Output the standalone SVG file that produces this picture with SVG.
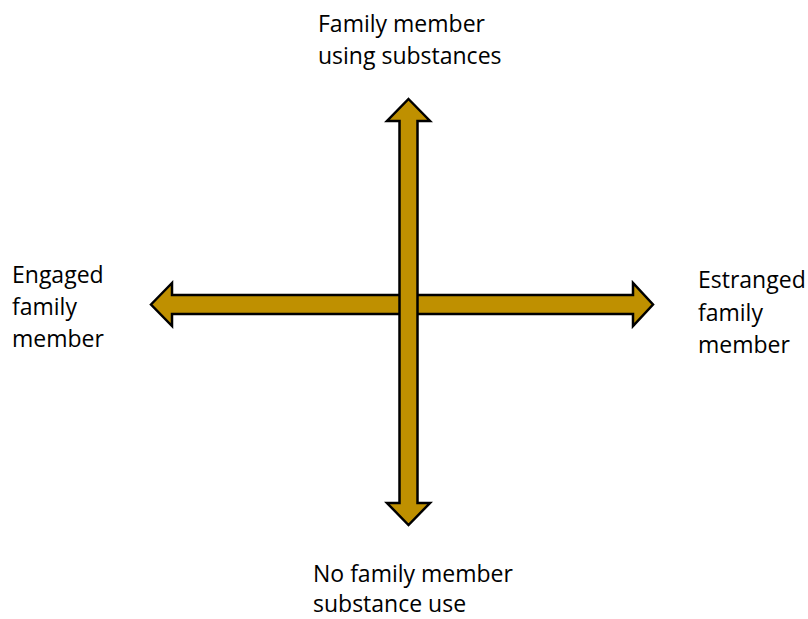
<svg xmlns="http://www.w3.org/2000/svg" width="808" height="619" viewBox="0 0 808 619">
<style>
.arrow{fill:#BF9000;stroke:#000;stroke-width:2.5;stroke-linejoin:miter}
.lbl{font-family:"Open Sans","Liberation Sans",sans-serif;font-size:23px;fill:#000}
</style>
<rect width="808" height="619" fill="#fff"/>
<g id="connectors">
<polygon id="h-arrow" class="arrow" points="151,304.5 172,283 172,295 633,295 633,283 653,304.5 633,326 633,314 172,314 172,326"/>
<polygon id="v-arrow" class="arrow" points="408.5,99 430,121 417.5,121 417.5,503 430,503 408.5,525 387,503 399.5,503 399.5,121 387,121"/>
</g>
<g id="top-label"><text class="lbl" x="318" y="32">Family member</text><text class="lbl" x="318" y="64">using substances</text></g>
<g id="left-label"><text class="lbl" x="12" y="283">Engaged</text><text class="lbl" x="12" y="315">family</text><text class="lbl" x="12" y="347">member</text></g>
<g id="right-label"><text class="lbl" x="698" y="288">Estranged</text><text class="lbl" x="698" y="321">family</text><text class="lbl" x="698" y="353">member</text></g>
<g id="bottom-label"><text class="lbl" x="313" y="582">No family member</text><text class="lbl" x="313" y="612">substance use</text></g>
</svg>
